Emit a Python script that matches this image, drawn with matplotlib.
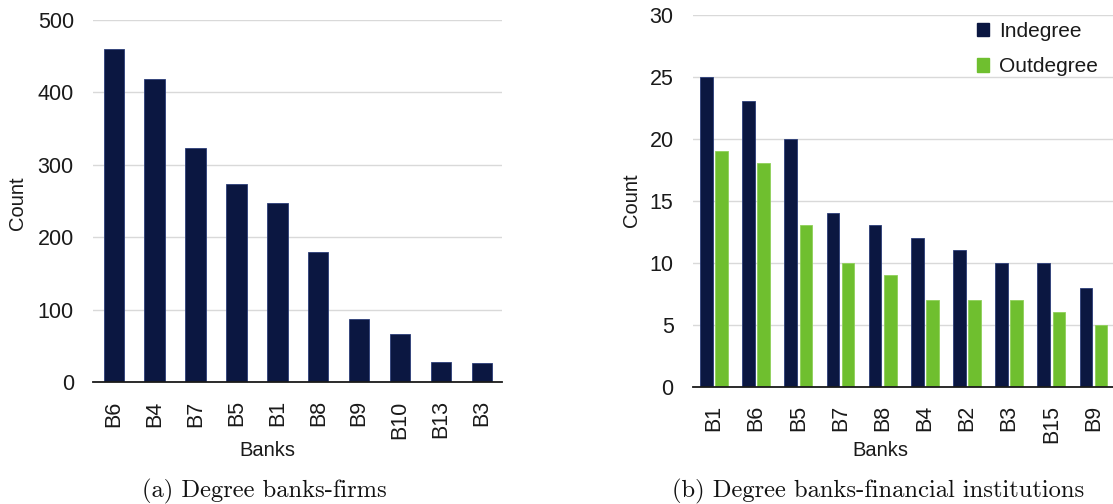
import matplotlib
matplotlib.use("Agg")
import matplotlib.pyplot as plt
from matplotlib.patches import Patch
import numpy as np

# Panel (a): number of firm links per bank
firm_banks = ["B6", "B4", "B7", "B5", "B1", "B8", "B9", "B10", "B13", "B3"]
firm_counts = [460, 419, 324, 273, 248, 180, 88, 66, 28, 26]

# Panel (b): links between banks and financial institutions
fin_banks = ["B1", "B6", "B5", "B7", "B8", "B4", "B2", "B3", "B15", "B9"]
indegree = [25, 23, 20, 14, 13, 12, 11, 10, 10, 8]
outdegree = [19, 18, 13, 10, 9, 7, 7, 7, 6, 5]

NAVY = "#0b1741"
GREEN = "#6fbf2f"
GRID = "#d9d9d9"
SANS = "Liberation Sans"
SERIF = "cmr10"

W, H = 1113, 504
fig = plt.figure(figsize=(W / 100, H / 100), dpi=100)


def px_axes(x0, y0, x1, y1):
    """Create axes from pixel bounds (top-left origin)."""
    return fig.add_axes([x0 / W, 1 - y1 / H, (x1 - x0) / W, (y1 - y0) / H])


def style(ax, ymax, step):
    ax.set_xlim(-0.5, 9.5)
    ax.set_ylim(0, ymax)
    ax.set_yticks(np.arange(0, ymax + 1, step))
    for s in ("top", "right", "left"):
        ax.spines[s].set_visible(False)
    ax.spines["bottom"].set_color("#1a1a1a")
    ax.spines["bottom"].set_linewidth(1.3)
    ax.spines["bottom"].set_zorder(5)
    ax.yaxis.grid(True, color=GRID, linewidth=1.0)
    ax.set_axisbelow(True)
    ax.tick_params(axis="both", length=0, labelsize=15.5, colors="#1a1a1a")
    ax.tick_params(axis="y", pad=14)
    ax.tick_params(axis="x", pad=13, labelrotation=90)
    for lab in ax.get_xticklabels() + ax.get_yticklabels():
        lab.set_fontfamily(SANS)


# ---- (a) Degree banks-firms ----
ax1 = px_axes(93.3, 20, 502.3, 382.3)
x1 = np.arange(len(firm_banks))
ax1.bar(x1, firm_counts, width=0.5, color=NAVY, edgecolor="#2b3d78", linewidth=0.6)
ax1.set_xticks(x1)
ax1.set_xticklabels(firm_banks)
style(ax1, 500, 100)

# ---- (b) Degree banks-financial institutions ----
ax2 = px_axes(693, 14.7, 1114.5, 386.7)
x2 = np.arange(len(fin_banks))
bw = 0.30
off = 0.18
ax2.bar(x2 - off, indegree, width=bw, color=NAVY, edgecolor="#2b3d78", linewidth=0.6)
ax2.bar(x2 + off, outdegree, width=bw, color=GREEN, edgecolor="#8fd05a", linewidth=0.6)
ax2.set_xticks(x2)
ax2.set_xticklabels(fin_banks)
style(ax2, 30, 5)

handles = [Patch(facecolor=NAVY, edgecolor=NAVY), Patch(facecolor=GREEN, edgecolor=GREEN)]
leg = ax2.legend(handles, ["Indegree", "Outdegree"], loc="upper left",
                 bbox_to_anchor=(976.5 / W, 1 - 22 / H), bbox_transform=fig.transFigure,
                 frameon=False, borderpad=0, borderaxespad=0,
                 handlelength=0.6, handleheight=0.6, handletextpad=0.5,
                 labelspacing=0.78, prop={"family": SANS, "size": 15})
for t in leg.get_texts():
    t.set_color("#1a1a1a")

# Axis titles
label_kw = dict(family=SANS, size=14.5, color="#1a1a1a", ha="center", va="center")
fig.text(18 / W, 1 - 203 / H, "Count", rotation=90, **label_kw)
fig.text(631 / W, 1 - 200 / H, "Count", rotation=90, **label_kw)
fig.text(267 / W, 1 - 450 / H, "Banks", **label_kw)
fig.text(880.5 / W, 1 - 450 / H, "Banks", **label_kw)

# Sub-figure captions
cap_kw = dict(family=SERIF, size=17.7, color="#111111", ha="center", va="baseline")
fig.text(264 / W, 1 - 497 / H, "(a) Degree banks-firms", **cap_kw)
fig.text(878 / W, 1 - 497 / H, "(b) Degree banks-financial institutions", **cap_kw)

fig.savefig("out.png", dpi=100)
